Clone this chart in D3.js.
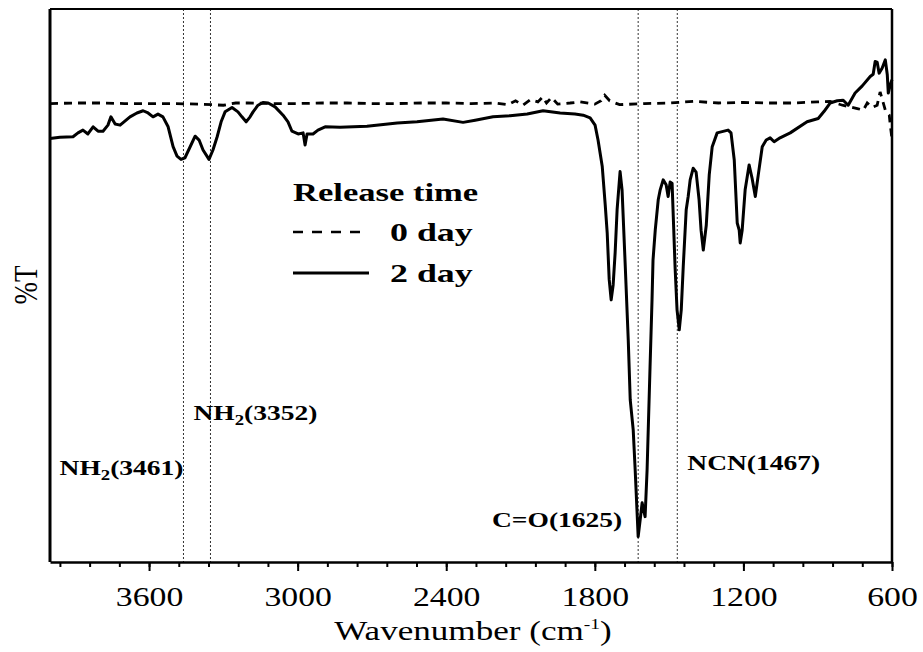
<!DOCTYPE html>
<html>
<head>
<meta charset="utf-8">
<script src="https://cdn.jsdelivr.net/npm/d3@7"></script>
<style>
  body { margin: 0; background: #fff; }
  text { font-family: "Liberation Serif", "Times New Roman", serif; fill: #000; }
</style>
</head>
<body>
<svg id="ftir" width="923" height="652"></svg>
<script>
// 0 day sample (dashed)
const wave0 = [4000,3900,3800,3700,3600,3500,3400,3300,3250,3200,3100,3000,2900,2800,2700,2600,2500,2400,2300,2200,
  2150,2120,2090,2060,2030,2010,1995,1975,1950,1900,1860,1800,1775,1760,1740,1700,1600,1500,1400,1300,
  1200,1100,1000,900,850,800,769,740,716,700,680,660,648,627,611,607,600];
const trans0 = [82.9,83.0,83.0,82.9,82.9,82.9,82.8,82.6,83.0,83.0,82.9,82.9,83.0,83.0,82.9,82.9,83.0,83.0,82.9,83.0,
  82.7,83.4,82.6,83.6,83.2,84.1,83.0,84.0,82.8,83.0,83.2,82.8,83.4,84.4,83.4,82.7,82.9,83.0,83.3,83.0,
  83.1,83.0,83.0,83.2,83.3,82.6,82.3,82.0,81.7,83.0,82.2,82.6,85.0,81.7,80.8,79.0,76.5];

// 2 day sample (solid)
const wave2 = [4000,3960,3907,3887,3867,3847,3826,3806,3786,3766,3754,3737,3717,3677,3649,3624,3604,3584,3564,3544,
  3523,3503,3487,3471,3455,3435,3414,3398,3382,3358,3342,3325,3309,3293,3265,3241,3225,3208,3192,3180,
  3160,3140,3119,3091,3059,3039,3023,2998,2978,2970,2962,2938,2918,2889,2829,2720,2598,2518,2413,2332,
  2283,2211,2142,2073,2009,1940,1880,1847,1819,1799,1787,1770,1758,1750,1742,1734,1726,1718,1710,1698,
  1690,1677,1665,1657,1645,1637,1625,1617,1609,1597,1589,1577,1569,1565,1556,1544,1536,1524,1512,1504,
  1496,1488,1476,1468,1459,1451,1443,1431,1423,1415,1403,1391,1379,1371,1362,1350,1338,1326,1306,1262,
  1250,1237,1225,1217,1213,1205,1193,1177,1165,1152,1140,1124,1108,1092,1076,1052,1011,943,898,874,
  850,821,797,777,749,720,688,676,668,660,652,640,627,619,615,607,600];
const trans2 = [76.6,76.8,76.9,77.6,78.1,77.4,78.7,77.9,77.9,79.0,80.5,79.2,79.0,80.5,81.2,81.6,81.2,80.5,81.0,80.5,
  78.7,75.1,73.4,72.8,73.1,75.0,77.0,76.3,74.5,72.8,74.5,76.9,79.6,81.4,82.2,81.4,80.5,79.6,80.5,81.4,
  82.6,83.1,83.0,82.3,80.8,79.6,77.9,77.4,77.6,75.4,77.4,77.4,78.1,78.7,78.6,78.8,79.4,79.6,80.1,79.5,
  79.9,80.5,80.7,81.0,81.6,81.2,81.0,80.8,80.3,79.0,76.3,71.5,64.6,59.5,51.1,47.4,50.1,55.9,63.7,70.6,
  67.3,53.4,40.1,29.3,23.9,16.6,4.6,7.6,10.7,8.2,16.6,35.3,47.4,54.6,60.0,65.5,67.3,69.1,68.2,66.1,
  68.7,68.5,53.4,45.6,42.0,45.6,53.4,63.7,66.1,69.1,71.2,70.5,65.5,60.0,56.4,60.9,70.0,75.1,77.6,78.1,
  77.6,72.7,61.3,60.0,57.7,60.0,67.3,71.8,69.4,66.1,70.0,75.1,76.3,76.7,76.0,76.7,77.6,79.6,80.2,81.5,
  83.0,83.4,83.5,82.6,84.8,86.1,87.8,88.2,90.5,90.4,88.4,89.3,90.8,88.1,84.8,86.3,87.2];

const bandWave = [3461, 3352, 1625, 1467];
const bandGroup = ["NH", "NH", "C=O", "NCN"];
const bandSub = ["2", "2", "", ""];

const majorTicks = [3600, 3000, 2400, 1800, 1200, 600];
const minorTicks = d3.range(600, 4000, 120);

const seriesNames = ["0 day", "2 day"];
const legendTitle = "Release time";

const svg = d3.select("#ftir");
const SX = 1.25; // the reference figure is stretched sideways

const x = d3.scaleLinear().domain([4000, 600]).range([50, 892]);
const y = d3.scaleLinear().domain([0, 100]).range([562, 9]);

// band marker lines
svg.append("g").selectAll("line").data(bandWave).join("line")
  .attr("x1", d => x(d)).attr("x2", d => x(d))
  .attr("y1", y(100)).attr("y2", y(0))
  .attr("stroke", "#333").attr("stroke-width", 1).attr("stroke-dasharray", "2,2");

const line = d3.line().x(d => x(d[0])).y(d => y(d[1]));

svg.append("path").datum(d3.zip(wave0, trans0))
  .attr("d", line).attr("fill", "none").attr("stroke", "#000")
  .attr("stroke-width", 2.8).attr("stroke-dasharray", "8,6");

svg.append("path").datum(d3.zip(wave2, trans2))
  .attr("d", line).attr("fill", "none").attr("stroke", "#000")
  .attr("stroke-width", 3).attr("stroke-linejoin", "round");

// frame
svg.append("line").attr("x1", 50).attr("x2", 892).attr("y1", y(100)).attr("y2", y(100))
  .attr("stroke", "#000").attr("stroke-width", 2);
svg.append("line").attr("x1", 892).attr("x2", 892).attr("y1", y(100)).attr("y2", y(0))
  .attr("stroke", "#000").attr("stroke-width", 2.5);
svg.append("line").attr("x1", 50).attr("x2", 50).attr("y1", y(100)).attr("y2", y(0))
  .attr("stroke", "#000").attr("stroke-width", 3);

// bottom axis: minor ticks, then major ticks with labels
svg.append("g").attr("transform", `translate(0,${y(0)})`)
  .call(d3.axisBottom(x).tickValues(minorTicks).tickSize(5).tickFormat(""))
  .call(g => g.select(".domain").remove())
  .call(g => g.selectAll("line").attr("stroke-width", 2));

svg.append("g").attr("transform", `translate(0,${y(0)})`)
  .call(d3.axisBottom(x).tickValues(majorTicks).tickFormat(d3.format("d"))
    .tickSize(9).tickSizeOuter(0).tickPadding(16))
  .call(g => g.select(".domain").attr("stroke-width", 2.5))
  .call(g => g.selectAll("line").attr("stroke-width", 2))
  .call(g => g.selectAll("text")
    .style("font-family", "'Liberation Serif', serif").attr("font-size", 27)
    .attr("transform", `scale(${SX},1)`));

// axis titles
const xt = svg.append("text").attr("transform", `translate(473,640) scale(1.3,1)`)
  .attr("text-anchor", "middle").attr("font-size", 27);
xt.append("tspan").text("Wavenumber (cm");
xt.append("tspan").text("-1").attr("font-size", 15).attr("dy", -11);
xt.append("tspan").text(")").attr("dy", 11);

svg.append("text").attr("transform", `translate(37,285) rotate(-90) scale(1,${SX})`)
  .attr("text-anchor", "middle").attr("font-size", 27).text("%T");

// band labels
const bandPlace = [
  { dx: 0, y: 475, anchor: "end" },
  { dx: -17, y: 420, anchor: "start" },
  { dx: -16, y: 527, anchor: "end" },
  { dx: 10, y: 470, anchor: "start" }
];
bandWave.forEach((w, i) => {
  const p = bandPlace[i];
  const t = svg.append("text")
    .attr("transform", `translate(${x(w) + p.dx},${p.y}) scale(${SX},1)`)
    .attr("text-anchor", p.anchor).attr("font-size", 22).attr("font-weight", "bold");
  t.append("tspan").text(bandGroup[i]);
  if (bandSub[i]) {
    t.append("tspan").text(bandSub[i]).attr("font-size", 15).attr("dy", 5);
    t.append("tspan").text(`(${w})`).attr("dy", -5);
  } else {
    t.append("tspan").text(`(${w})`);
  }
});

// legend
const lg = svg.append("g");
lg.append("text").attr("transform", `translate(293,201) scale(1.33,1)`)
  .attr("font-size", 26).attr("font-weight", "bold").text(legendTitle);
seriesNames.forEach((name, i) => {
  const ly = 232 + i * 41;
  lg.append("line").attr("x1", 293).attr("x2", 369).attr("y1", ly).attr("y2", ly)
    .attr("stroke", "#000").attr("stroke-width", i === 0 ? 2.6 : 3)
    .attr("stroke-dasharray", i === 0 ? "10,9" : null);
  lg.append("text").attr("transform", `translate(390,${ly + 9}) scale(1.38,1)`)
    .attr("font-size", 26).attr("font-weight", "bold").text(name);
});
</script>
</body>
</html>
